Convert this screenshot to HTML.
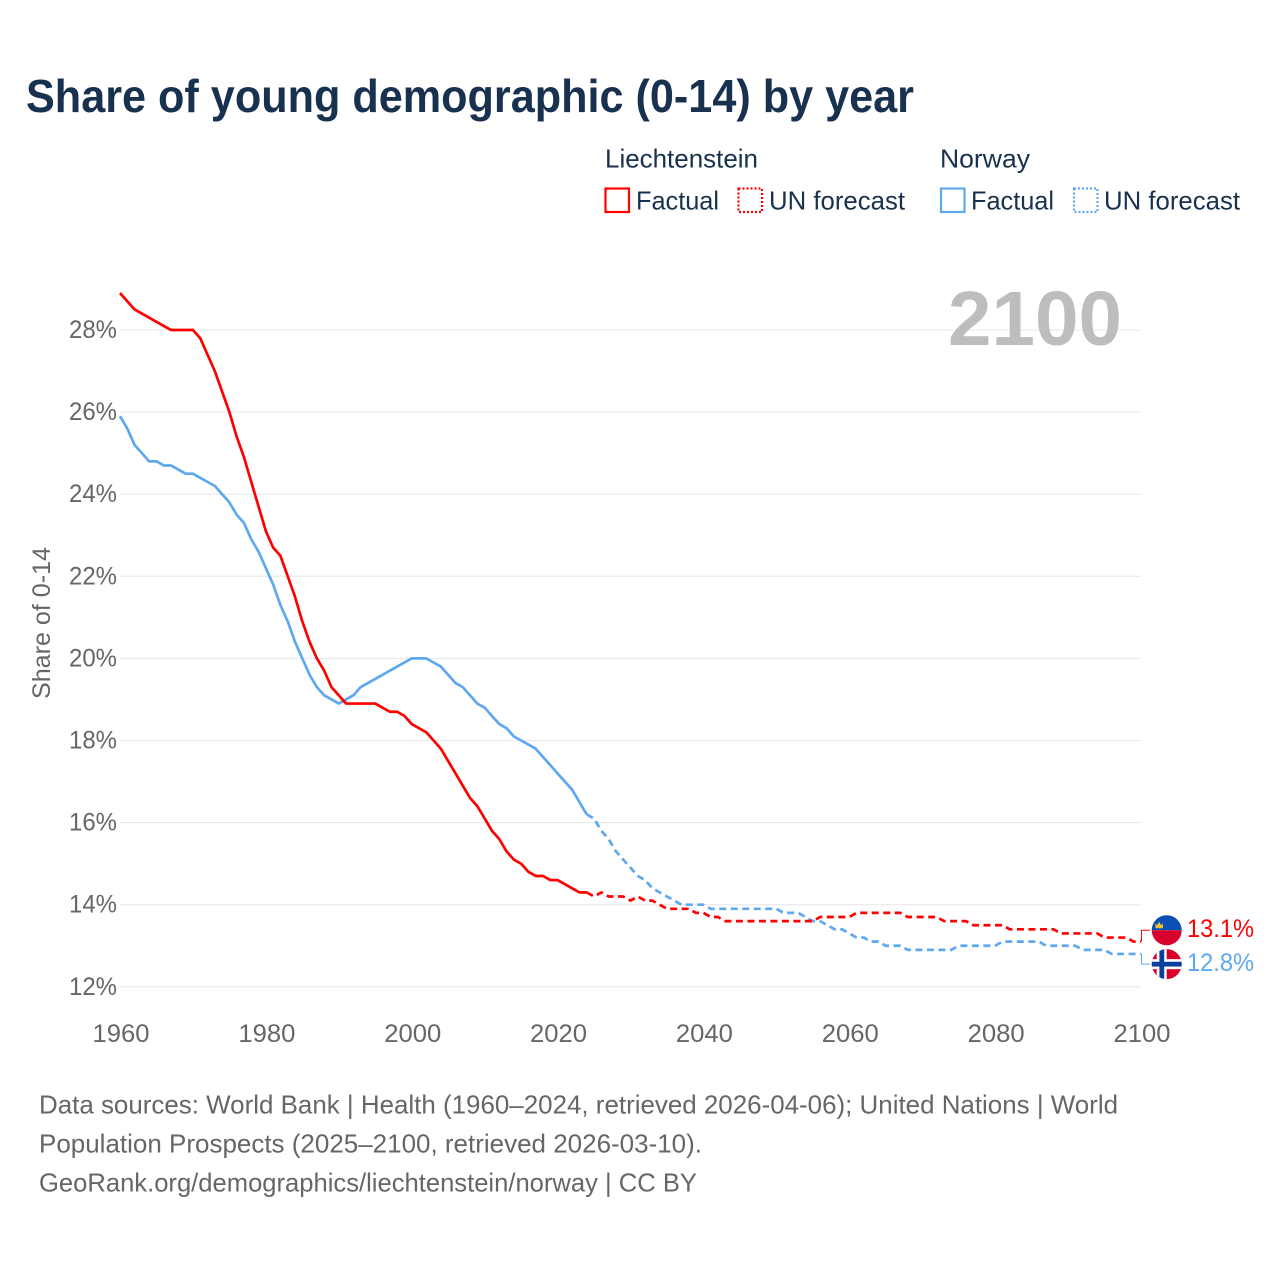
<!DOCTYPE html>
<html lang="en">
<head>
<meta charset="utf-8">
<title>Share of young demographic (0-14) by year</title>
<style>
html,body{margin:0;padding:0;background:#fff;width:1280px;height:1280px;overflow:hidden}
svg{display:block}
text{font-family:"Liberation Sans",sans-serif}
.dark{fill:#18314f}
.grey{fill:#666}
</style>
</head>
<body>
<svg id="chart" xmlns="http://www.w3.org/2000/svg" width="1280" height="1280" viewBox="0 0 1280 1280">
<defs>
<clipPath id="clip-li"><circle cx="0" cy="0" r="15"/></clipPath>
</defs>
<rect x="0" y="0" width="1280" height="1280" fill="#fff"/>
<text class="dark" x="26" y="112" font-size="46" font-weight="700" textLength="888" lengthAdjust="spacingAndGlyphs">Share of young demographic (0-14) by year</text>

<g font-size="26">
<text class="dark" x="605" y="167.5" textLength="153" lengthAdjust="spacingAndGlyphs">Liechtenstein</text>
<rect x="605.5" y="188.5" width="23.5" height="23.5" fill="none" stroke="#ff0000" stroke-width="2.2"/>
<text class="dark" x="636" y="209.5" textLength="83" lengthAdjust="spacingAndGlyphs">Factual</text>
<rect x="738.5" y="188.5" width="23.5" height="23.5" fill="none" stroke="#ff0000" stroke-width="2.2" stroke-dasharray="2 2"/>
<text class="dark" x="769" y="209.5" textLength="136" lengthAdjust="spacingAndGlyphs">UN forecast</text>
<text class="dark" x="940" y="167.5" textLength="90" lengthAdjust="spacingAndGlyphs">Norway</text>
<rect x="941" y="188.5" width="23.5" height="23.5" fill="none" stroke="#5ea8f0" stroke-width="2.2"/>
<text class="dark" x="971" y="209.5" textLength="83" lengthAdjust="spacingAndGlyphs">Factual</text>
<rect x="1074" y="188.5" width="23.5" height="23.5" fill="none" stroke="#5ea8f0" stroke-width="2.2" stroke-dasharray="2 2"/>
<text class="dark" x="1104" y="209.5" textLength="136" lengthAdjust="spacingAndGlyphs">UN forecast</text>
</g>

<g id="grid"></g>
<text x="948" y="345" font-size="77" font-weight="700" fill="#bdbdbd" textLength="174" lengthAdjust="spacingAndGlyphs">2100</text>
<g id="yticks"></g>
<g id="xticks"></g>
<text class="grey" transform="translate(50 623) rotate(-90)" text-anchor="middle" font-size="25" textLength="152" lengthAdjust="spacingAndGlyphs">Share of 0-14</text>
<g id="series"></g>
<g id="endmarks"></g>

<g class="grey" font-size="26">
<text class="grey" x="39" y="1113.5" textLength="1079" lengthAdjust="spacingAndGlyphs">Data sources: World Bank | Health (1960–2024, retrieved 2026-04-06); United Nations | World</text>
<text class="grey" x="39" y="1152.5" textLength="663" lengthAdjust="spacingAndGlyphs">Population Prospects (2025–2100, retrieved 2026-03-10).</text>
<text class="grey" x="39" y="1191.5" textLength="658" lengthAdjust="spacingAndGlyphs">GeoRank.org/demographics/liechtenstein/norway | CC BY</text>
</g>
</svg>
<script>
const yTickValues = [12, 14, 16, 18, 20, 22, 24, 26, 28];
const xTickYears = [1960, 1980, 2000, 2020, 2040, 2060, 2080, 2100];
const factualStartYear = 1960;
const forecastStartYear = 2025;

const liechtensteinFactual = [
28.9,28.7,28.5,28.4,28.3,28.2,28.1,28.0,28.0,28.0,
28.0,27.8,27.4,27.0,26.5,26.0,25.4,24.9,24.3,23.7,
23.1,22.7,22.5,22.0,21.5,20.9,20.4,20.0,19.7,19.3,
19.1,18.9,18.9,18.9,18.9,18.9,18.8,18.7,18.7,18.6,
18.4,18.3,18.2,18.0,17.8,17.5,17.2,16.9,16.6,16.4,
16.1,15.8,15.6,15.3,15.1,15.0,14.8,14.7,14.7,14.6,
14.6,14.5,14.4,14.3,14.3];

const norwayFactual = [
25.9,25.6,25.2,25.0,24.8,24.8,24.7,24.7,24.6,24.5,
24.5,24.4,24.3,24.2,24.0,23.8,23.5,23.3,22.9,22.6,
22.2,21.8,21.3,20.9,20.4,20.0,19.6,19.3,19.1,19.0,
18.9,19.0,19.1,19.3,19.4,19.5,19.6,19.7,19.8,19.9,
20.0,20.0,20.0,19.9,19.8,19.6,19.4,19.3,19.1,18.9,
18.8,18.6,18.4,18.3,18.1,18.0,17.9,17.8,17.6,17.4,
17.2,17.0,16.8,16.5,16.2];

const liechtensteinForecast = [
14.2,14.3,14.2,14.2,14.2,14.1,14.2,14.1,14.1,14.0,
13.9,13.9,13.9,13.9,13.8,13.8,13.7,13.7,13.6,13.6,
13.6,13.6,13.6,13.6,13.6,13.6,13.6,13.6,13.6,13.6,
13.6,13.7,13.7,13.7,13.7,13.7,13.8,13.8,13.8,13.8,
13.8,13.8,13.8,13.7,13.7,13.7,13.7,13.7,13.6,13.6,
13.6,13.6,13.5,13.5,13.5,13.5,13.5,13.4,13.4,13.4,
13.4,13.4,13.4,13.4,13.3,13.3,13.3,13.3,13.3,13.3,
13.2,13.2,13.2,13.2,13.1,13.1];

const norwayForecast = [
16.1,15.8,15.6,15.3,15.1,14.9,14.7,14.6,14.4,14.3,
14.2,14.1,14.0,14.0,14.0,14.0,13.9,13.9,13.9,13.9,
13.9,13.9,13.9,13.9,13.9,13.9,13.8,13.8,13.8,13.7,
13.6,13.6,13.5,13.4,13.4,13.3,13.2,13.2,13.1,13.1,
13.0,13.0,13.0,12.9,12.9,12.9,12.9,12.9,12.9,12.9,
13.0,13.0,13.0,13.0,13.0,13.0,13.1,13.1,13.1,13.1,
13.1,13.1,13.0,13.0,13.0,13.0,13.0,12.9,12.9,12.9,
12.9,12.8,12.8,12.8,12.8,12.8];

const SVG_NS = 'http://www.w3.org/2000/svg';
const RED = '#ff0000';
const BLUE = '#5ea8f0';
const xAt = function (year) { return 120 + (year - 1960) * 1021 / 140; };
const yAt = function (v) { return 330 + (28 - v) * 41.05; };

function make(tag, parent, attrs) {
  const el = document.createElementNS(SVG_NS, tag);
  Object.keys(attrs).forEach(function (k) { el.setAttribute(k, attrs[k]); });
  parent.appendChild(el);
  return el;
}

const grid = document.getElementById('grid');
const yticks = document.getElementById('yticks');
yTickValues.forEach(function (v) {
  const line = make('line', grid, { x1: 120, x2: 1141, y1: yAt(v), y2: yAt(v), stroke: '#e6e6e6', 'stroke-width': 1 });
  
  
  const t = make('text', yticks, { x: 117, y: yAt(v) + 8, 'text-anchor': 'end', 'font-size': 25, fill: '#666', textLength: 48, lengthAdjust: 'spacingAndGlyphs' });
  t.textContent = v + '%';
  
  
});

const xticks = document.getElementById('xticks');
xTickYears.forEach(function (yr) {
  const t = make('text', xticks, { x: xAt(yr) + 1, y: 1042, 'text-anchor': 'middle', 'font-size': 25, fill: '#666', textLength: 57, lengthAdjust: 'spacingAndGlyphs' });
  t.textContent = String(yr);
  
  
});

function pathFrom(points) {
  return points.map(function (p, i) {
    return (i ? 'L' : 'M') + xAt(p[0]).toFixed(2) + ' ' + yAt(p[1]).toFixed(2);
  }).join(' ');
}
function toPoints(values, startYear) {
  return values.map(function (v, i) { return [startYear + i, v]; });
}

const seriesGroup = document.getElementById('series');
function drawSeries(factual, forecast, color, key) {
  const fPts = toPoints(factual, factualStartYear);
  const uPts = [fPts[fPts.length - 1]].concat(toPoints(forecast, forecastStartYear));
  const solid = make('path', seriesGroup, { d: pathFrom(fPts), fill: 'none', stroke: color, 'stroke-width': 2.7, 'stroke-linejoin': 'round' });
  
  
  const dashed = make('path', seriesGroup, { d: pathFrom(uPts), fill: 'none', stroke: color, 'stroke-width': 2.7, 'stroke-dasharray': '7 4.5', 'stroke-linejoin': 'round' });
  
  
}
drawSeries(norwayFactual, norwayForecast, BLUE, 'norway');
drawSeries(liechtensteinFactual, liechtensteinForecast, RED, 'liechtenstein');

const endmarks = document.getElementById('endmarks');
function drawEnd(values, color, key, offset, drawFlag) {
  const last = values[values.length - 1];
  const y0 = yAt(last);
  const cy = y0 + offset;
  const conn = make('path', endmarks, { d: 'M' + (xAt(2100) + 0.5) + ' ' + y0 + ' V' + cy + ' H1150', fill: 'none', stroke: color, 'stroke-width': 1 });
  
  
  const flag = make('g', endmarks, { transform: 'translate(1166.7 ' + cy + ')', 'clip-path': 'url(#clip-li)' });
  
  
  drawFlag(flag);
  const label = make('text', endmarks, { x: 1187, y: cy + 7, 'font-size': 25, fill: color, textLength: 67, lengthAdjust: 'spacingAndGlyphs' });
  label.textContent = last.toFixed(1) + '%';
  
  
}
drawEnd(liechtensteinForecast, RED, 'liechtenstein', -11.4, function (g) {
  make('rect', g, { x: -16, y: -16, width: 32, height: 16, fill: '#0a50b4' });
  make('rect', g, { x: -16, y: 0, width: 32, height: 16, fill: '#d8002c' });
  make('path', g, { d: 'M-11 -2 L-11.5 -7 L-9.5 -5 L-7.5 -8.5 L-5.5 -5 L-3.5 -7 L-4 -2 Z', fill: '#f4c430' });
});
drawEnd(norwayForecast, BLUE, 'norway', 10.2, function (g) {
  make('rect', g, { x: -16, y: -16, width: 32, height: 32, fill: '#d8002c' });
  make('rect', g, { x: -10, y: -16, width: 10, height: 32, fill: '#fff' });
  make('rect', g, { x: -16, y: -5, width: 32, height: 10, fill: '#fff' });
  make('rect', g, { x: -7.3, y: -16, width: 4.8, height: 32, fill: '#0a3f9e' });
  make('rect', g, { x: -16, y: -2.4, width: 32, height: 4.8, fill: '#0a3f9e' });
});
</script>
</body>
</html>
